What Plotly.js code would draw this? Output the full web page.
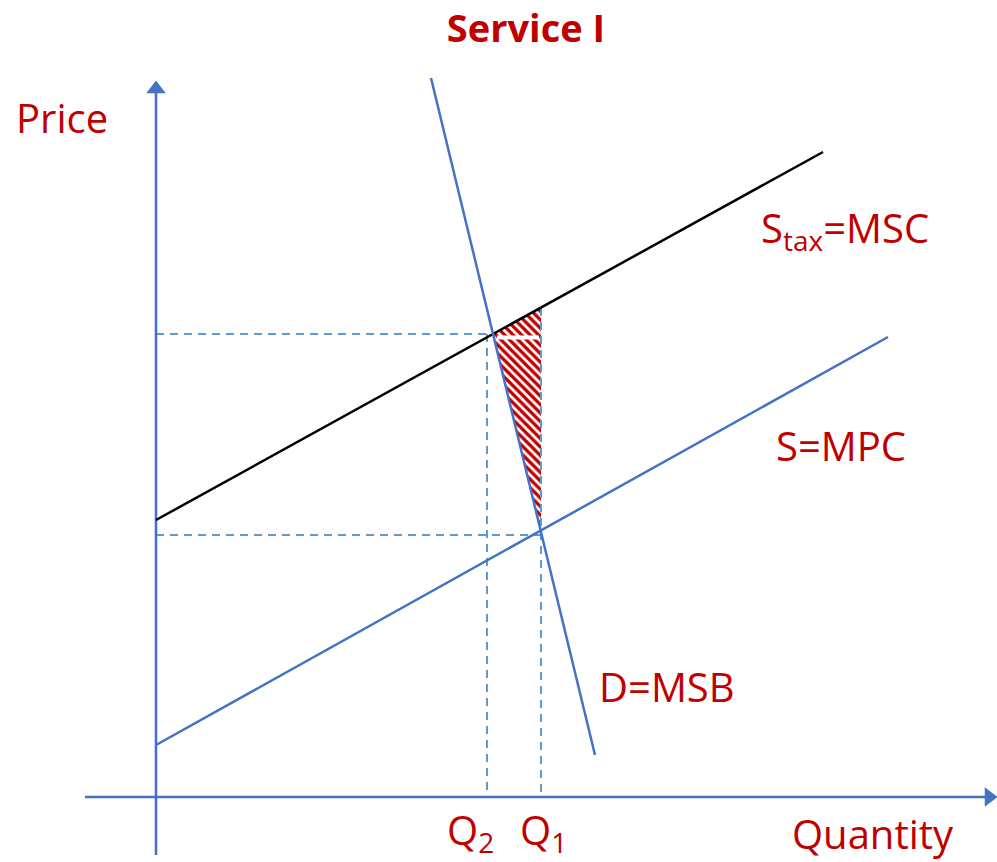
<!DOCTYPE html>
<html>
<head>
<meta charset="utf-8">
<script src="https://cdn.plot.ly/plotly-3.0.1.min.js"></script>
<style>html,body{margin:0;padding:0;background:#fff;}#chart{width:997px;height:862px;}</style>
</head>
<body>
<div id="chart"></div>
<script>
// Quantity / price coordinates (origin at the axis crossing)
const axisXQ = [-7.1, 82.9];
const axisXP = [0, 0];
const axisYQ = [0, 0];
const axisYP = [-5.8, 70.9];
const arrowXQ = [83.3];
const arrowXP = [0];
const arrowYQ = [0];
const arrowYP = [70.8];

const mscQ = [0, 66.7];
const mscP = [27.7, 64.5];
const mpcQ = [0, 73.2];
const mpcP = [5.2, 46.0];
const demandQ = [27.5, 43.9];
const demandP = [71.9, 4.2];

const dlwQ = [33.7, 38.5, 38.5, 33.7];
const dlwP = [46.3, 48.9, 26.6, 46.3];
const gapQ = [34.1, 38.3];
const gapP = [45.95, 45.95];

const dashH1Q = [0, 33.4], dashH1P = [46.3, 46.3];
const dashV1Q = [33.1, 33.1], dashV1P = [46.3, 0];
const dashH2Q = [0, 38.5], dashH2P = [26.2, 26.2];
const dashV2Q = [38.5, 38.5], dashV2P = [48.9, 0];

const titleText = 'Service I';
const priceLabel = 'Price';
const quantityLabel = 'Quantity';
const mpcLabel = 'S=MPC';
const msbLabel = 'D=MSB';
const mscLabel = 'S<sub>tax</sub>=MSC';
const q1Label = 'Q<sub>1</sub>';
const q2Label = 'Q<sub>2</sub>';

const RED = '#C00000';
const BLUE = '#4472C4';
const LBLUE = '#5B9BD5';

function line(x, y, color, width, dash) {
  return {x: x, y: y, mode: 'lines', type: 'scatter', hoverinfo: 'skip',
    line: {color: color, width: width, dash: dash || 'solid'}, showlegend: false};
}

const traces = [
  {x: dlwQ, y: dlwP, type: 'scatter', mode: 'lines', fill: 'toself',
   line: {width: 0, color: 'rgba(0,0,0,0)'}, fillcolor: 'white',
   fillpattern: {shape: '\\', fgcolor: RED, bgcolor: 'white', size: 6, solidity: 0.55},
   showlegend: false, hoverinfo: 'skip'},
  line(gapQ, gapP, 'white', 4),
  line(dashH1Q, dashH1P, LBLUE, 2, '8px,6px'),
  line(dashV1Q, dashV1P, LBLUE, 2, '8px,6px'),
  line(dashH2Q, dashH2P, LBLUE, 2, '8px,6px'),
  line(dashV2Q, dashV2P, LBLUE, 2, '8px,6px'),
  line(axisXQ, axisXP, BLUE, 2.6),
  line(axisYQ, axisYP, BLUE, 2.6),
  {x: arrowXQ, y: arrowXP, type: 'scatter', mode: 'markers', hoverinfo: 'skip', showlegend: false,
   marker: {symbol: 'triangle-right', size: 17, color: BLUE, line: {width: 0}}},
  {x: arrowYQ, y: arrowYP, type: 'scatter', mode: 'markers', hoverinfo: 'skip', showlegend: false,
   marker: {symbol: 'triangle-up', size: 17, color: BLUE, line: {width: 0}}},
  line(mscQ, mscP, '#000000', 2.5),
  line(mpcQ, mpcP, BLUE, 2.5),
  line(demandQ, demandP, BLUE, 2.5)
];

const lblFont = {family: 'Open Sans, Noto Sans, sans-serif', size: 40, color: RED};
function ann(text, x, y) {
  return {text: text, x: x, y: y, xref: 'x', yref: 'y', showarrow: false,
    xanchor: 'center', yanchor: 'middle', font: lblFont};
}

const layout = {
  width: 997, height: 862,
  margin: {l: 0, r: 0, t: 0, b: 0},
  paper_bgcolor: 'white', plot_bgcolor: 'white',
  title: {text: titleText, x: 0.5276, y: 0.967, xanchor: 'center', yanchor: 'middle',
    xref: 'paper', yref: 'paper',
    font: {family: 'Open Sans, Noto Sans, sans-serif', size: 38, color: RED, weight: 700}},
  xaxis: {range: [-15.6, 84.1], visible: false, fixedrange: true},
  yaxis: {range: [-6.5, 79.7], visible: false, fixedrange: true},
  showlegend: false,
  annotations: [
    ann(priceLabel, -9.4, 68.0),
    ann(quantityLabel, 71.7, -3.6),
    ann(mpcLabel, 68.5, 35.2),
    ann(msbLabel, 51.1, 11.1),
    ann(mscLabel, 68.9, 56.8),
    ann(q2Label, 31.4, -3.4),
    ann(q1Label, 38.7, -3.4)
  ]
};

Plotly.newPlot('chart', traces, layout, {displayModeBar: false, staticPlot: true});
</script>
</body>
</html>
